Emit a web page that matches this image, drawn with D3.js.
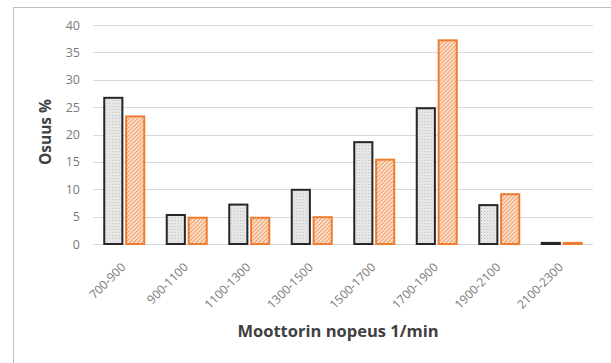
<!DOCTYPE html>
<html>
<head>
<meta charset="utf-8">
<script src="https://cdn.jsdelivr.net/npm/d3@7"></script>
<style>
  html, body { margin: 0; padding: 0; background: #fff; }
  svg { display: block; font-family: "Open Sans", "Liberation Sans", sans-serif; }
</style>
</head>
<body>
<svg id="chart" width="611" height="363"></svg>
<script>
// Engine speed bands (1/min) and share of operating time (%)
const categories = ["700-900", "900-1100", "1100-1300", "1300-1500", "1500-1700", "1700-1900", "1900-2100", "2100-2300"];
const seriesA = [26.7, 5.3, 7.2, 9.9, 18.6, 24.8, 7.1, 0.2];
const seriesB = [23.3, 4.8, 4.8, 4.9, 15.4, 37.2, 9.1, 0.2];
const yTicks = [0, 5, 10, 15, 20, 25, 30, 35, 40];

const svg = d3.select("#chart");
const margin = { left: 93, right: 18, top: 25, bottom: 119 };
const W = 611, H = 363;
const plotW = W - margin.left - margin.right;
const plotH = H - margin.top - margin.bottom;

// Patterns: stippled grey and orange diagonal hatch
const defs = svg.append("defs");
const dots = defs.append("pattern").attr("id", "dots")
  .attr("patternUnits", "userSpaceOnUse").attr("width", 3).attr("height", 3);
dots.append("rect").attr("width", 3).attr("height", 3).attr("fill", "#ececec");
dots.append("rect").attr("x", 0).attr("y", 0).attr("width", 1).attr("height", 1).attr("fill", "#b8b8b8");
dots.append("rect").attr("x", 1.5).attr("y", 1.5).attr("width", 1).attr("height", 1).attr("fill", "#c8c8c8");

const hatch = defs.append("pattern").attr("id", "hatch")
  .attr("patternUnits", "userSpaceOnUse").attr("width", 4).attr("height", 4);
hatch.append("rect").attr("width", 4).attr("height", 4).attr("fill", "#fbe9dc");
hatch.append("path").attr("d", "M-1,1 l2,-2 M0,4 l4,-4 M3,5 l2,-2")
  .attr("stroke", "#ed7d31").attr("stroke-width", 1.1).attr("opacity", 0.8);

// Chart area frame
svg.append("rect").attr("x", 13.5).attr("y", 7.5).attr("width", 620).attr("height", 380)
  .attr("fill", "none").attr("stroke", "#bfbfbf").attr("stroke-width", 1);

const g = svg.append("g").attr("transform", `translate(${margin.left},${margin.top})`);

const x = d3.scaleBand().domain(categories).range([0, plotW]).paddingInner(0).paddingOuter(0);
const x1 = d3.scaleBand().domain(["a", "b"]).range([0, 42]).paddingInner(0.08);
const y = d3.scaleLinear().domain([0, 40]).range([plotH, 0]);

// Gridlines
g.selectAll("line.grid").data(yTicks).join("line")
  .attr("class", "grid")
  .attr("x1", 0).attr("x2", plotW)
  .attr("y1", d => Math.round(y(d)) + 0.5).attr("y2", d => Math.round(y(d)) + 0.5)
  .attr("stroke", "#d9d9d9").attr("stroke-width", 1);

// Y axis labels
const yAxis = d3.axisLeft(y).tickValues(yTicks).tickSize(0).tickPadding(13);
const ya = g.append("g").call(yAxis);
ya.select(".domain").remove();
ya.selectAll("text").attr("fill", "#7a7a7a").attr("font-size", 12.5).style("font-family", "Open Sans, sans-serif");

// Bars
const groups = g.selectAll("g.cat").data(categories).join("g")
  .attr("class", "cat")
  .attr("transform", d => `translate(${x(d) + x.bandwidth() / 2 - 21},0)`);

groups.append("rect")
  .attr("x", x1("a") + 1)
  .attr("y", (d, i) => y(seriesA[i]))
  .attr("width", x1.bandwidth() - 2)
  .attr("height", (d, i) => y(0) - y(seriesA[i]))
  .attr("fill", "url(#dots)").attr("stroke", "#262626").attr("stroke-width", 2);

groups.append("rect")
  .attr("x", x1("b") + 1)
  .attr("y", (d, i) => y(seriesB[i]))
  .attr("width", x1.bandwidth() - 2)
  .attr("height", (d, i) => y(0) - y(seriesB[i]))
  .attr("fill", "url(#hatch)").attr("stroke", "#ed7d31").attr("stroke-width", 2);

// X axis labels, rotated
const xAxis = d3.axisBottom(x).tickSize(0).tickPadding(0);
const xa = g.append("g").attr("transform", `translate(0,${plotH})`).call(xAxis);
xa.select(".domain").remove();
xa.selectAll("text")
  .attr("fill", "#7a7a7a").attr("font-size", 12).style("font-family", "Open Sans, sans-serif")
  .attr("text-anchor", "end")
  .attr("dy", 0).attr("y", 0)
  .attr("transform", "translate(2,24) rotate(-45)");

// Axis titles
svg.append("text")
  .attr("transform", `translate(51,132) rotate(-90)`)
  .attr("text-anchor", "middle")
  .attr("fill", "#404040").attr("font-size", 15.5).attr("font-weight", "bold")
  .text("Osuus %");

svg.append("text")
  .attr("x", 338).attr("y", 337)
  .attr("text-anchor", "middle")
  .attr("fill", "#404040").attr("font-size", 16.5).attr("font-weight", "bold")
  .text("Moottorin nopeus 1/min");
</script>
</body>
</html>
